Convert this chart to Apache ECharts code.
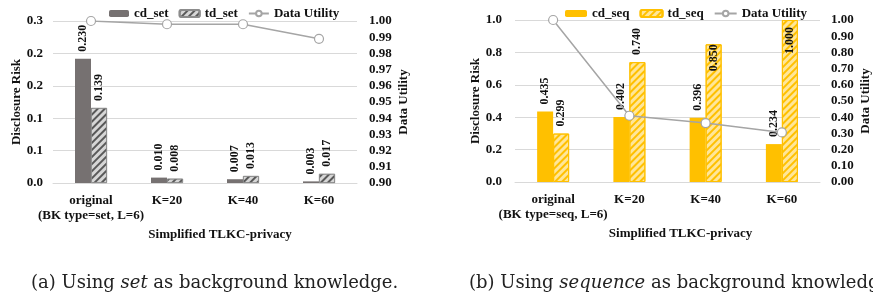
<!DOCTYPE html>
<html>
<head>
<meta charset="utf-8">
<script src="https://cdn.jsdelivr.net/npm/echarts@6/dist/echarts.min.js"></script>
<style>
  html, body { margin: 0; padding: 0; background: #fff; }
  #chart { width: 873px; height: 296px; }
</style>
</head>
<body>
<div id="chart"></div>
<script>
// 数据
const setCategories = ['original\n(BK type=set, L=6)', 'K=20', 'K=40', 'K=60']
const seqCategories = ['original\n(BK type=seq, L=6)', 'K=20', 'K=40', 'K=60']
const cdSet = [0.230, 0.010, 0.007, 0.003]
const tdSet = [0.139, 0.008, 0.013, 0.017]
const utilitySet = [1.000, 0.998, 0.998, 0.989]
const cdSeq = [0.435, 0.402, 0.396, 0.234]
const tdSeq = [0.299, 0.740, 0.850, 1.000]
const utilitySeq = [1.000, 0.409, 0.364, 0.306]

const serif = 'Liberation Serif'
const boldText = { fontFamily: serif, fontWeight: 'bold', fontSize: 13, color: '#111' }

const gridLine = { show: true, lineStyle: { color: '#d9d9d9', width: 1 } }

const barLabel = {
  show: true,
  position: 'top',
  rotate: 90,
  align: 'left',
  verticalAlign: 'middle',
  distance: 7,
  fontFamily: serif,
  fontWeight: 'bold',
  fontSize: 12,
  color: '#111',
  formatter: p => p.value.toFixed(3)
}

const captionRich = {
  n: { fontFamily: 'DejaVu Serif', fontSize: 18, fontWeight: 'normal', color: '#222' },
  i: { fontFamily: 'DejaVu Serif', fontSize: 18, fontWeight: 'normal', fontStyle: 'italic', color: '#222' }
}

function hatch (color) {
  return {
    symbol: 'rect',
    symbolSize: 1,
    dashArrayX: [1, 0],
    dashArrayY: [2, 3],
    rotation: -Math.PI / 4,
    color
  }
}

function catAxis (gridIndex, data, pad) {
  return {
    type: 'category',
    gridIndex,
    data,
    axisLine: { lineStyle: { color: '#d9d9d9' } },
    axisTick: { show: false },
    axisLabel: Object.assign({ margin: 10, lineHeight: 15, interval: 0 }, boldText),
    name: 'Simplified TLKC-privacy',
    nameLocation: 'middle',
    nameGap: 35,
    nameTextStyle: Object.assign({ padding: [0, 0, 0, pad] }, boldText)
  }
}

function valAxis (gridIndex, position, min, max, interval, digits, gap, margin) {
  return {
    type: 'value',
    gridIndex,
    position,
    min,
    max,
    interval,
    axisLine: { show: false },
    axisTick: { show: false },
    splitLine: position === 'left' ? gridLine : { show: false },
    axisLabel: Object.assign({ margin, formatter: v => v.toFixed(digits) }, boldText),
    name: position === 'left' ? 'Disclosure Risk' : 'Data Utility',
    nameLocation: 'middle',
    nameRotate: 90,
    nameGap: gap,
    nameTextStyle: boldText
  }
}

function utilityLine (data, xi, yi) {
  return {
    name: 'Data Utility',
    type: 'line',
    xAxisIndex: xi,
    yAxisIndex: yi,
    data,
    z: 5,
    symbol: 'circle',
    symbolSize: 9,
    lineStyle: { color: '#a5a5a5', width: 1.5 },
    itemStyle: { color: '#fff', borderColor: '#a5a5a5', borderWidth: 1.2 }
  }
}

// 标签超出绘图区时往下压
function clampLabels (values) {
  return values.map(v => {
    if (v >= 0.95) return { value: v, label: { position: 'insideTop', align: 'right', distance: 7 } }
    if (v > 0.8) return { value: v, label: { position: 'insideTop', align: 'right', distance: 0 } }
    return v
  })
}

const option = {
  animation: false,
  backgroundColor: '#fff',
  title: [{
    left: 26,
    top: 269,
    text: '{n|(a) Using }{i|set}{n| as background knowledge.}',
    textStyle: { rich: captionRich }
  }, {
    left: 464,
    top: 269,
    text: '{n|(b) Using }{i|sequence}{n| as background knowledge.}',
    textStyle: { rich: captionRich }
  }],
  legend: [{
    left: 104,
    top: 2,
    itemWidth: 20,
    itemHeight: 7,
    itemGap: 10,
    textStyle: boldText,
    data: ['cd_set', 'td_set', 'Data Utility']
  }, {
    left: 560,
    top: 2,
    itemWidth: 22,
    itemHeight: 7,
    itemGap: 10,
    textStyle: boldText,
    data: ['cd_seq', 'td_seq', 'Data Utility']
  }],
  grid: [
    { left: 53, right: 516, top: 21, bottom: 113 },
    { left: 515, right: 51, top: 20, bottom: 114 }
  ],
  xAxis: [
    catAxis(0, setCategories, 30),
    catAxis(1, seqCategories, 26)
  ],
  yAxis: [
    valAxis(0, 'left', 0, 0.3, 0.06, 1, 29, 10),
    valAxis(0, 'right', 0.9, 1, 0.01, 2, 40, 12),
    valAxis(1, 'left', 0, 1, 0.2, 1, 29, 13),
    valAxis(1, 'right', 0, 1, 0.1, 2, 39, 11)
  ],
  series: [
    {
      name: 'cd_set',
      type: 'bar',
      xAxisIndex: 0,
      yAxisIndex: 0,
      barWidth: 16,
      barGap: '0%',
      data: cdSet,
      itemStyle: { color: '#767171' },
      label: barLabel
    },
    {
      name: 'td_set',
      type: 'bar',
      xAxisIndex: 0,
      yAxisIndex: 0,
      barWidth: 16,
      barGap: '0%',
      data: tdSet,
      itemStyle: { color: '#d6d6d6', borderColor: '#8c8c8c', borderWidth: 0.8, decal: hatch('#595959') },
      label: barLabel
    },
    utilityLine(utilitySet, 0, 1),
    {
      name: 'cd_seq',
      type: 'bar',
      xAxisIndex: 1,
      yAxisIndex: 2,
      barWidth: 16,
      barGap: '0%',
      data: cdSeq,
      itemStyle: { color: '#ffc000' },
      label: barLabel
    },
    {
      name: 'td_seq',
      type: 'bar',
      xAxisIndex: 1,
      yAxisIndex: 2,
      barWidth: 16,
      barGap: '0%',
      data: clampLabels(tdSeq),
      itemStyle: { color: '#ffe699', borderColor: '#ffc000', borderWidth: 1, decal: hatch('#ffc000') },
      label: barLabel
    },
    utilityLine(utilitySeq, 1, 3)
  ]
}

const myChart = echarts.init(document.getElementById('chart'))
myChart.setOption(option)
</script>
</body>
</html>
